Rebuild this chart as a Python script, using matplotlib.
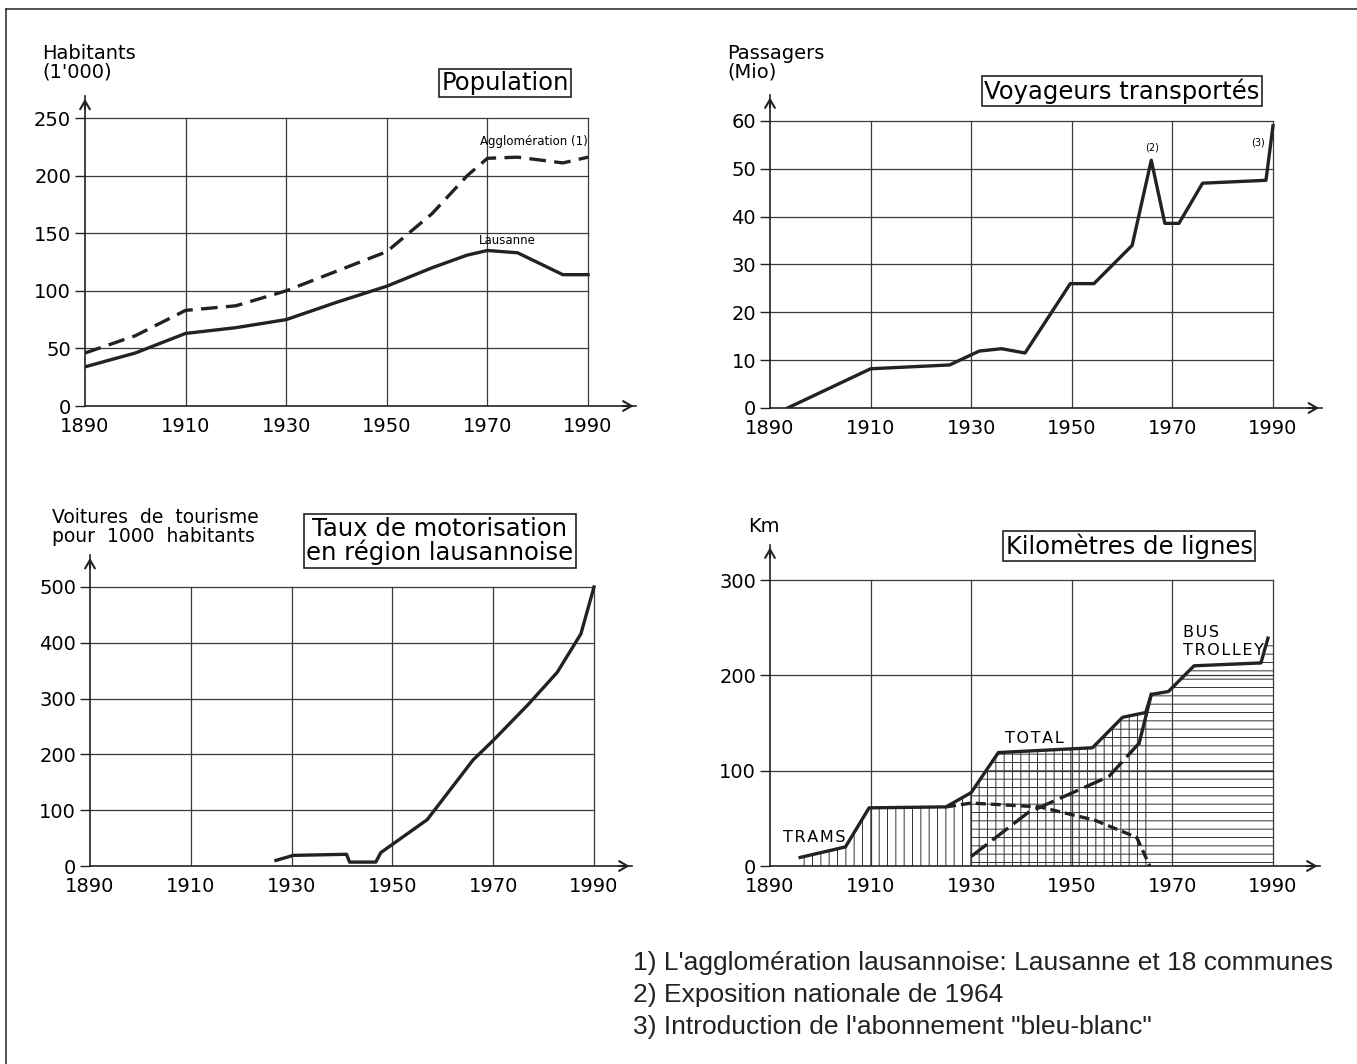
import matplotlib
matplotlib.use("Agg")
import matplotlib.pyplot as plt
from matplotlib.lines import Line2D
import numpy as np

plt.rcParams['font.family'] = ['DejaVu Sans']
plt.rcParams['hatch.linewidth'] = 0.7

# ---------------- data ----------------
x_ticks = [1890, 1910, 1930, 1950, 1970, 1990]

pop_years = [1890, 1900, 1910, 1920, 1930, 1940, 1950, 1959, 1966, 1970, 1976, 1985, 1990]
pop_lausanne = [34, 46, 63, 68, 75, 90, 104, 120, 131, 135, 133, 114, 114]
pop_agglo = [46, 61, 83, 87, 100, 117, 134, 167, 200, 215, 216, 211, 216]
pop_yticks = [0, 50, 100, 150, 200, 250]

voy_years = [1893.5, 1910, 1925.7, 1931.6, 1936, 1940.7, 1949.7, 1954.4, 1962, 1965.8, 1968.5, 1971.3, 1976, 1988.6, 1990]
voy_values = [0, 8.2, 9, 11.9, 12.4, 11.5, 26, 26, 34, 51.8, 38.6, 38.6, 47, 47.6, 59]
voy_yticks = [0, 10, 20, 30, 40, 50, 60]

mot_years = [1926.9, 1930.3, 1940.9, 1941.5, 1946.7, 1947.7, 1956.9, 1966, 1970, 1977, 1982.7, 1987.4, 1990]
mot_values = [10, 19, 21, 7, 7, 24, 83, 190, 225, 290, 347, 416, 500]
mot_yticks = [0, 100, 200, 300, 400, 500]

km_total_years = [1896, 1905, 1909.7, 1925, 1930, 1935.4, 1954.1, 1960.1, 1964.7, 1965.8, 1969.2, 1974.3, 1987.6, 1989]
km_total = [9, 20, 61, 62, 77, 119, 124, 156, 161, 180, 183, 210, 213, 239]
km_trams_years = [1925, 1930, 1943.6, 1954.6, 1962.9, 1965.5]
km_trams = [62, 66, 62, 48, 30, 0]
km_bus_years = [1930, 1941.3, 1957.4, 1963.4, 1965.8]
km_bus = [10, 56, 94, 129, 180]
km_yticks = [0, 100, 200, 300]

footnotes = ["1) L'agglomération lausannoise: Lausanne et 18 communes",
             "2) Exposition nationale de 1964",
             "3) Introduction de l'abonnement \"bleu-blanc\""]

W, H = 1357, 1064
fig = plt.figure(figsize=(W / 100, H / 100), dpi=100)

GRID = '#3a3a3a'
LW = 2.4
TICK_FS = 14


def make_ax(x0px, x1990px, y0px, ytoppx, ytopval, xend, yend):
    pxy = (x1990px - x0px) / 100.0
    pyv = (y0px - ytoppx) / ytopval
    right = x0px + (xend - 1890) * pxy
    top = y0px - yend * pyv
    ax = fig.add_axes([x0px / W, 1 - y0px / H, (right - x0px) / W, (y0px - top) / H])
    ax.set_xlim(1890, xend)
    ax.set_ylim(0, yend)
    ax.patch.set_alpha(0)
    for s in ['top', 'right']:
        ax.spines[s].set_visible(False)
    for s in ['left', 'bottom']:
        ax.spines[s].set_linewidth(1.2)
        ax.spines[s].set_color('#222')
    return ax


def decorate(ax, yticks, ymax_grid):
    ax.set_xticks(x_ticks)
    ax.set_xticklabels([str(t) for t in x_ticks], fontsize=TICK_FS)
    ax.set_yticks(yticks)
    ax.set_yticklabels([str(t) for t in yticks], fontsize=TICK_FS)
    ax.tick_params(axis='x', length=0, pad=8)
    ax.tick_params(axis='y', length=7, width=1, pad=3, color='#222')
    for t in yticks[1:]:
        ax.plot([1890, 1990], [t, t], color=GRID, lw=0.9, zorder=1)
    for t in x_ticks[1:]:
        ax.plot([t, t], [0, ymax_grid], color=GRID, lw=0.9, zorder=1)
    ax.annotate('', xy=(1.0, 0), xytext=(0.97, 0), xycoords='axes fraction',
                arrowprops=dict(arrowstyle='->,head_length=0.6,head_width=0.35', lw=1.5, color='#222'))
    ax.annotate('', xy=(0, 1.0), xytext=(0, 0.95), xycoords='axes fraction',
                arrowprops=dict(arrowstyle='->,head_length=0.6,head_width=0.35', lw=1.5, color='#222'))


def boxed_title(x, y, text, size=17.5):
    fig.text(x / W, 1 - y / H, text, fontsize=size, ha='center', va='center',
             linespacing=0.95,
             bbox=dict(boxstyle='square,pad=0.1', fc='white', ec='#222', lw=1.2))


def spaced(s):
    return '\u200a'.join(s)


# ---------------- Population ----------------
ax1 = make_ax(85, 588, 406, 118, 250, 1999.6, 269)
decorate(ax1, pop_yticks, 250)
ax1.plot(pop_years, pop_lausanne, color='#222', lw=LW, zorder=3)
ax1.plot(pop_years, pop_agglo, color='#222', lw=LW, ls=(0, (5, 2.5)), zorder=3)
ax1.text(1990, 224, 'Agglomération (1)', fontsize=8.5, ha='right', va='bottom')
ax1.text(1974, 138, 'Lausanne', fontsize=8.5, ha='center', va='bottom')
fig.text(42 / W, 1 - 63 / H, "Habitants\n(1'000)", fontsize=14, ha='left', va='center', linespacing=1.0)
boxed_title(505, 83, 'Population')

# ---------------- Voyageurs ----------------
ax2 = make_ax(770, 1273, 408, 121, 60, 1999.7, 65.5)
decorate(ax2, voy_yticks, 60)
ax2.plot(voy_years, voy_values, color='#222', lw=LW, zorder=3)
ax2.text(1966, 53.5, '(2)', fontsize=7, ha='center', va='bottom')
ax2.text(1987, 54.5, '(3)', fontsize=7, ha='center', va='bottom')
fig.text(727 / W, 1 - 63 / H, "Passagers\n(Mio)", fontsize=14, ha='left', va='center', linespacing=1.0)
boxed_title(1122, 91, 'Voyageurs transportés')

# ---------------- Motorisation ----------------
ax3 = make_ax(90, 594, 866, 587, 500, 1997.6, 557)
decorate(ax3, mot_yticks, 500)
ax3.plot(mot_years, mot_values, color='#222', lw=LW, zorder=3)
fig.text(52 / W, 1 - 527 / H, "Voitures  de  tourisme\npour  1000  habitants", fontsize=13.5,
         ha='left', va='center', linespacing=0.95)
boxed_title(440, 541, 'Taux de motorisation\nen région lausannoise')

# ---------------- Kilomètres ----------------
ax4 = make_ax(770, 1273, 866, 580, 300, 1999.4, 337)
decorate(ax4, km_yticks, 300)
tram_end = km_trams_years[-1]
bus_start = km_bus_years[0]
xs_v = [x for x in km_total_years if x <= tram_end] + [tram_end]
ys_v = list(np.interp(xs_v, km_total_years, km_total))
ax4.fill_between(xs_v, 0, ys_v, facecolor='none', edgecolor='#333', hatch='||', lw=0, zorder=2)
xs_h = [bus_start] + [x for x in km_total_years if x > bus_start] + [1990]
ys_h = list(np.interp(xs_h, km_total_years, km_total))
ys_h[-1] = km_total[-1]
ax4.fill_between(xs_h, 0, ys_h, facecolor='none', edgecolor='#333', hatch='--', lw=0, zorder=2)
ax4.plot(km_total_years, km_total, color='#222', lw=LW, zorder=4)
ax4.plot(km_trams_years, km_trams, color='#222', lw=LW, ls=(0, (3, 1.5)), zorder=4)
ax4.plot(km_bus_years[:-1], km_bus[:-1], color='#222', lw=LW, ls=(0, (6, 2)), zorder=4)
ax4.plot(km_bus_years[-2:], km_bus[-2:], color='#222', lw=LW, zorder=4)
lbl = dict(fontsize=11.5, ha='left', va='center', zorder=5)
ax4.text(1892.5, 30, spaced('TRAMS'), **lbl)
ax4.text(1936.8, 134, spaced('TOTAL'), **lbl)
ax4.text(1972.2, 245, spaced('BUS'), **lbl)
ax4.text(1972.2, 226, spaced('TROLLEY'), **lbl)
fig.text(748 / W, 1 - 526 / H, "Km", fontsize=14, ha='left', va='center')
boxed_title(1129, 546, 'Kilomètres de lignes')

# ---------------- footnotes ----------------
for i, t in enumerate(footnotes):
    fig.text(633 / W, 1 - (963 + i * 32) / H, t, fontsize=19, ha='left', va='center',
             family=['Liberation Sans', 'DejaVu Sans'], color='#222')

# page frame (top and left only)
fig.add_artist(Line2D([6 / W, 1], [1 - 9 / H, 1 - 9 / H], transform=fig.transFigure, color='#333', lw=1.2))
fig.add_artist(Line2D([6 / W, 6 / W], [0, 1 - 9 / H], transform=fig.transFigure, color='#333', lw=1.2))

fig.savefig('out.png', dpi=100, facecolor='white')
